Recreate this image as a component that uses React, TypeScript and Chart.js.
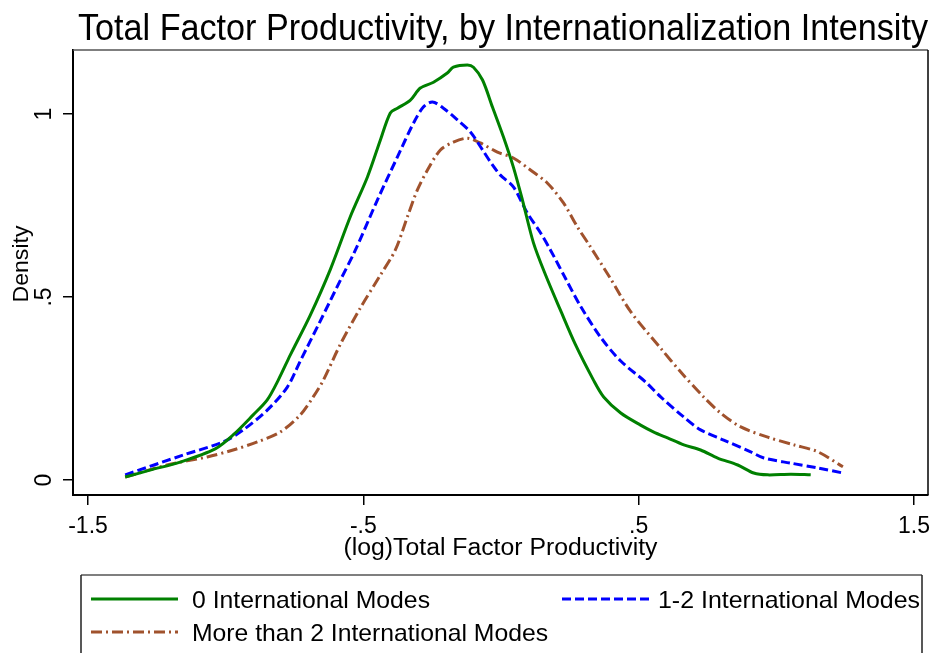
import React, { useEffect, useRef } from "react";
import { Chart, registerables } from "chart.js";

Chart.register(...registerables);

const FONT = "'Liberation Sans', Arial, Helvetica, sans-serif";

const TITLE = "Total Factor Productivity, by Internationalization Intensity";
const X_TITLE = "(log)Total Factor Productivity";
const Y_TITLE = "Density";
const X_TICKS = [-1.5, -0.5, 0.5, 1.5];
const Y_TICKS = [0, 0.5, 1];
const SERIES_NAMES = [
  "0 International Modes",
  "1-2 International Modes",
  "More than 2 International Modes",
];

// 0 International Modes (green, solid)
const G_X = [-1.365, -1.275, -1.165, -1.038, -0.973, -0.9, -0.849, -0.809, -0.765, -0.693, -0.62, -0.547, -0.485, -0.438, -0.402, -0.376, -0.329, -0.293, -0.245, -0.195, -0.173, -0.122, -0.1, -0.067, -0.031, 0.009, 0.045, 0.078, 0.118, 0.162, 0.216, 0.271, 0.336, 0.373, 0.435, 0.507, 0.555, 0.605, 0.664, 0.725, 0.787, 0.86, 0.918, 0.969, 1.053, 1.125];
const G_Y = [0.008, 0.027, 0.049, 0.085, 0.123, 0.178, 0.219, 0.273, 0.342, 0.45, 0.575, 0.72, 0.828, 0.929, 1.003, 1.016, 1.038, 1.071, 1.087, 1.112, 1.128, 1.134, 1.128, 1.093, 1.019, 0.937, 0.855, 0.765, 0.648, 0.56, 0.464, 0.369, 0.273, 0.227, 0.183, 0.15, 0.131, 0.115, 0.096, 0.082, 0.06, 0.041, 0.019, 0.014, 0.016, 0.014];

// 1-2 International Modes (blue, dashed)
const B_X = [-1.365, -1.155, -1.009, -0.936, -0.849, -0.776, -0.729, -0.656, -0.584, -0.529, -0.449, -0.376, -0.318, -0.282, -0.249, -0.209, -0.158, -0.111, -0.067, -0.031, -0.002, 0.045, 0.096, 0.144, 0.18, 0.235, 0.289, 0.362, 0.435, 0.525, 0.58, 0.664, 0.725, 0.809, 0.907, 0.955, 1.053, 1.151, 1.242];
const B_Y = [0.014, 0.068, 0.104, 0.137, 0.191, 0.254, 0.325, 0.435, 0.545, 0.628, 0.765, 0.883, 0.975, 1.019, 1.033, 1.016, 0.984, 0.951, 0.902, 0.861, 0.833, 0.801, 0.729, 0.675, 0.628, 0.55, 0.475, 0.39, 0.325, 0.268, 0.227, 0.172, 0.137, 0.109, 0.077, 0.06, 0.046, 0.033, 0.019];

// More than 2 International Modes (brown, dash-dot)
const R_X = [-1.365, -1.213, -1.067, -0.973, -0.885, -0.802, -0.729, -0.682, -0.645, -0.584, -0.511, -0.438, -0.384, -0.34, -0.304, -0.267, -0.22, -0.173, -0.122, -0.075, -0.013, 0.045, 0.107, 0.169, 0.227, 0.278, 0.325, 0.398, 0.471, 0.58, 0.653, 0.736, 0.798, 0.871, 0.969, 1.064, 1.151, 1.242];
const R_Y = [0.008, 0.041, 0.063, 0.082, 0.104, 0.131, 0.178, 0.227, 0.273, 0.37, 0.47, 0.56, 0.628, 0.719, 0.792, 0.847, 0.902, 0.923, 0.934, 0.921, 0.896, 0.88, 0.847, 0.811, 0.757, 0.691, 0.637, 0.55, 0.46, 0.36, 0.295, 0.227, 0.183, 0.145, 0.117, 0.096, 0.077, 0.036];

const COLORS = ["#008000", "#0000FF", "#A0522D"];
const DASHES: number[][] = [[], [9, 4], [11, 4, 2, 4]];

const fmt = (v: number) => String(v).replace(/^(-?)0\./, "$1.");

const pts = (xs: number[], ys: number[]) => xs.map((x, i) => ({ x, y: ys[i] }));

function drawText(ctx: CanvasRenderingContext2D, text: string, x: number, y: number, size: number, align: CanvasTextAlign, width?: number) {
  ctx.save();
  ctx.font = `${size}px ${FONT}`;
  const w = ctx.measureText(text).width;
  const sx = width ? width / w : 1;
  ctx.translate(x, y);
  ctx.scale(sx, 1);
  ctx.textAlign = align;
  ctx.textBaseline = "alphabetic";
  ctx.fillStyle = "#000";
  ctx.fillText(text, 0, 0);
  ctx.restore();
}

const stataPlugin = {
  id: "stataText",
  afterDraw(chart: any) {
    const ctx: CanvasRenderingContext2D = chart.ctx;
    const xs = chart.scales.x;
    const ys = chart.scales.y;
    const ca = chart.chartArea;
    ctx.save();
    // plot region frame (top and right)
    ctx.lineWidth = 1.5;
    ctx.strokeStyle = "#555";
    ctx.beginPath();
    ctx.moveTo(ca.left, ca.top);
    ctx.lineTo(ca.right, ca.top);
    ctx.stroke();
    ctx.strokeStyle = "#000";
    ctx.beginPath();
    ctx.moveTo(ca.right, ca.top);
    ctx.lineTo(ca.right, ca.bottom);
    ctx.stroke();

    // title
    drawText(ctx, TITLE, 78, 40, 36, "left", 850);

    // x tick labels
    X_TICKS.forEach((v) => drawText(ctx, fmt(v), xs.getPixelForValue(v), 533, 23, "center"));
    // x title
    drawText(ctx, X_TITLE, (ca.left + ca.right) / 2, 555, 23, "center", 314);

    // y tick labels (rotated)
    Y_TICKS.forEach((v) => {
      ctx.save();
      ctx.translate(51, ys.getPixelForValue(v));
      ctx.rotate(-Math.PI / 2);
      drawText(ctx, fmt(v), 0, 0, 23, "center");
      ctx.restore();
    });
    // y title
    ctx.save();
    ctx.translate(28, 264);
    ctx.rotate(-Math.PI / 2);
    drawText(ctx, Y_TITLE, 0, 0, 22, "center", 77);
    ctx.restore();

    // legend box
    const L = 81, T = 575, R = 922, B = 660;
    ctx.lineWidth = 1.5;
    ctx.strokeStyle = "#555";
    ctx.beginPath();
    ctx.moveTo(L, T);
    ctx.lineTo(R, T);
    ctx.stroke();
    ctx.strokeStyle = "#222";
    ctx.beginPath();
    ctx.moveTo(L, T);
    ctx.lineTo(L, B);
    ctx.moveTo(R, T);
    ctx.lineTo(R, B);
    ctx.stroke();

    const items = [
      { lx: 91, y: 599, tx: 192, w: 238 },
      { lx: 562, y: 599, tx: 658, w: 262 },
      { lx: 91, y: 632, tx: 192, w: 356 },
    ];
    items.forEach((it, i) => {
      ctx.save();
      ctx.strokeStyle = COLORS[i];
      ctx.lineWidth = 3;
      ctx.setLineDash(DASHES[i]);
      ctx.beginPath();
      ctx.moveTo(it.lx, it.y);
      ctx.lineTo(it.lx + 87, it.y);
      ctx.stroke();
      ctx.restore();
      drawText(ctx, SERIES_NAMES[i], it.tx, it.y + 9, 24, "left", it.w);
    });
    ctx.restore();
  },
};

export default function App() {
  const ref = useRef<HTMLCanvasElement | null>(null);
  useEffect(() => {
    document.body.style.margin = "0";
    const canvas = ref.current!;
    const data = {
      datasets: [
        { label: SERIES_NAMES[0], data: pts(G_X, G_Y) },
        { label: SERIES_NAMES[1], data: pts(B_X, B_Y) },
        { label: SERIES_NAMES[2], data: pts(R_X, R_Y) },
      ].map((d, i) => ({
        ...d,
        borderColor: COLORS[i],
        backgroundColor: COLORS[i],
        borderWidth: 3,
        borderDash: DASHES[i],
        pointRadius: 0,
        tension: 0.3,
        fill: false,
      })),
    };
    const chart = new Chart(canvas, {
      type: "line",
      data: data as any,
      options: {
        animation: false,
        responsive: false,
        devicePixelRatio: 1,
        layout: { padding: { top: 50, right: 6, left: 0, bottom: 0 } },
        plugins: { legend: { display: false }, tooltip: { enabled: false }, title: { display: false } },
        scales: {
          x: {
            type: "linear",
            min: -1.5545,
            max: 1.551,
            afterBuildTicks: (s: any) => {
              s.ticks = X_TICKS.map((v) => ({ value: v }));
            },
            afterFit: (s: any) => {
              s.height = 158;
            },
            ticks: { display: false },
            grid: { display: true, drawOnChartArea: false, drawTicks: true, tickLength: 10, color: "#000", lineWidth: 1.5 },
            border: { display: true, color: "#000", width: 2 },
          },
          y: {
            type: "linear",
            min: -0.041,
            max: 1.175,
            afterBuildTicks: (s: any) => {
              s.ticks = Y_TICKS.map((v) => ({ value: v }));
            },
            afterFit: (s: any) => {
              s.width = 73;
            },
            ticks: { display: false },
            grid: { display: true, drawOnChartArea: false, drawTicks: true, tickLength: 10, color: "#000", lineWidth: 1.5 },
            border: { display: true, color: "#000", width: 2 },
          },
        },
      } as any,
      plugins: [stataPlugin],
    });
    return () => chart.destroy();
  }, []);
  return (
    <div style={{ position: "absolute", left: 0, top: 0, width: 934, height: 653, background: "#fff" }}>
      <canvas ref={ref} width={934} height={653} style={{ display: "block" }} />
    </div>
  );
}
